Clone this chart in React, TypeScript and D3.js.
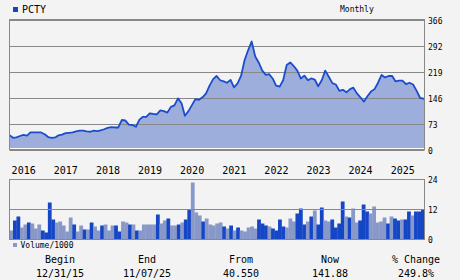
import React from 'react';
import * as d3 from 'd3';

const priceValues: number[] = [
  40.55, 33, 34, 38, 41, 39, 48, 48, 48, 48, 43, 35, 33, 34, 40, 42, 46, 47, 48, 51,
  53, 53, 51, 50, 53, 52, 54, 57, 61, 63, 62, 62, 83, 82, 70, 69, 64, 84, 92, 92,
  102, 100, 99, 110, 108, 104, 120, 124, 144, 130, 95, 108, 125, 142, 140, 147, 158, 180, 198, 207,
  195, 192, 188, 196, 175, 186, 207, 252, 280, 304, 262, 245, 222, 210, 212, 200, 180, 177, 195, 238,
  245, 235, 222, 200, 208, 195, 200, 197, 178, 195, 222, 205, 187, 183, 165, 168, 161, 170, 174, 158,
  147, 135, 150, 163, 170, 188, 210, 203, 207, 207, 192, 194, 194, 184, 188, 183, 165, 145, 143,
];
const lastPrice = 141.88;

const volumeValues: number[] = [
  3.6, 7.6, 9.2, 4.8, 6, 6.8, 6.4, 4.4, 6, 3.6, 2.8, 14.8, 8, 6.8, 7.2, 5.6, 3.2, 8.8, 6, 3.2,
  5.6, 4, 4, 6.8, 5.2, 3.6, 5.6, 6, 3.6, 5.6, 5.6, 3.2, 7.2, 6.8, 6, 6, 3.6, 3.6, 6, 6,
  6, 6, 10, 6.4, 7.6, 8.4, 5.6, 5.6, 6, 6.8, 8, 12, 22.8, 10.8, 9.6, 7.2, 8.4, 6, 5.6, 6.4,
  6.8, 5.2, 4.4, 5.6, 3.6, 4.8, 3.6, 3.2, 4.8, 5.2, 4.4, 8, 6.4, 5.6, 5.2, 4.4, 3.6, 8, 5.2, 4.8,
  8.4, 7.2, 10.4, 12.4, 6, 7.2, 9.2, 11.6, 6, 12.8, 7.6, 7.2, 8, 4.8, 6.4, 15.2, 9.2, 8.8, 12.4, 6.8,
  7.6, 14, 11.2, 10.4, 13.2, 6.8, 7.2, 8.8, 6.4, 9.2, 8.4, 7.6, 8, 8, 11.2, 9.6, 11.2, 11.2, 12,
];
// 1 = up month (dark bar), 0 = down month (light bar)
const volumeUp: number[] = [
  0, 1, 1, 0, 0, 1, 0, 0, 0, 1, 1, 1, 1, 0, 0, 0, 0, 0, 1, 0,
  0, 1, 0, 1, 0, 0, 1, 0, 0, 0, 1, 1, 0, 0, 1, 0, 1, 0, 0, 0,
  0, 0, 1, 0, 0, 1, 0, 0, 1, 0, 1, 1, 0, 0, 0, 1, 0, 0, 0, 0,
  0, 1, 0, 1, 0, 1, 0, 0, 0, 0, 0, 1, 1, 1, 0, 1, 1, 1, 1, 0,
  0, 0, 1, 1, 1, 0, 1, 0, 1, 1, 0, 0, 1, 1, 1, 1, 0, 1, 0, 0,
  1, 1, 1, 0, 0, 0, 0, 0, 1, 0, 1, 1, 0, 1, 1, 0, 1, 1, 1,
];

const yearLabels = ['2016', '2017', '2018', '2019', '2020', '2021', '2022', '2023', '2024', '2025'];
const priceTicks = [0, 73, 146, 219, 292, 366];
const volumeTicks = [0, 12, 24];
const statLabels = ['Begin', 'End', 'From', 'Now', '% Change'];
const statValues = ['12/31/15', '11/07/25', '40.550', '141.88', '249.8%'];

const startDate = new Date(2015, 11, 31);
const endDate = new Date(2025, 10, 7);

const priceDates: Date[] = priceValues.map((_, k) => new Date(2015, 12 + k, 0));
const points: [Date, number][] = priceValues.map((v, k) => [priceDates[k], v] as [Date, number]);
points.push([endDate, lastPrice]);

const FONT = '"DejaVu Sans Mono", monospace';
const BG = '#f3f3f3';
const LINE = '#1a4ccc';
const FILL = '#9daedc';
const BAR_UP = '#1446c6';
const BAR_DN = '#8898c8';
const GRID = '#888888';

export default function App() {
  const L = 9.5, R = 424.5;
  const pTop = 19.5, pBot = 149.5;
  const vTop = 179.5, vBot = 239.5;

  const x = d3.scaleTime().domain([startDate, endDate]).range([L, R]);
  const y = d3.scaleLinear().domain([0, 366]).range([pBot, pTop]);
  const yv = d3.scaleLinear().domain([0, 24]).range([vBot, vTop]);
  const band = d3.scaleBand<number>().domain(d3.range(volumeValues.length)).range([L, R]).padding(0);

  const area = d3.area<[Date, number]>()
    .x(d => x(d[0]))
    .y0(pBot - 1.5)
    .y1(d => y(d[1]));
  const line = d3.line<[Date, number]>()
    .x(d => x(d[0]))
    .y(d => y(d[1]));

  const statCenters = [60, 147, 241, 330, 416];

  return (
    <svg width={460} height={280} style={{ position: 'absolute', left: 0, top: 0, display: 'block' }}
      fontFamily={FONT}>
      <rect x={0} y={0} width={460} height={280} fill={BG} />

      {/* header */}
      <rect x={13} y={7} width={5} height={5} fill={BAR_UP} />
      <text x={22} y={12.5} fontSize={10} fill="#000">PCTY</text>
      <text x={340} y={12} fontSize={8} fill="#000">Monthly</text>

      {/* price panel */}
      <path d={area(points) || ''} fill={FILL} />
      <line x1={L} x2={R} y1={pBot - 1} y2={pBot - 1} stroke="#ffffff" strokeWidth={1} />
      {priceTicks.map(t => (
        <line key={'g' + t} x1={L} x2={R} y1={Math.round(y(t)) + 0.5} y2={Math.round(y(t)) + 0.5}
          stroke={GRID} strokeWidth={1} />
      ))}
      <path d={line(points) || ''} fill="none" stroke={LINE} strokeWidth={1.8} strokeLinejoin="round" />
      <rect x={L} y={pTop} width={R - L} height={pBot - pTop} fill="none" stroke={GRID} strokeWidth={1} />
      {priceTicks.map(t => (
        <text key={'t' + t} x={428} y={y(t) + 4} fontSize={8} fill="#000">{t}</text>
      ))}

      {/* year labels */}
      {yearLabels.map(yr => (
        <text key={yr} x={x(new Date(+yr, 0, 1)) + 2} y={174} fontSize={10} fill="#000">{yr}</text>
      ))}

      {/* volume panel */}
      {volumeValues.map((v, i) => (
        <rect key={'v' + i} x={band(i)!} y={yv(v)} width={band.bandwidth() + 0.3}
          height={vBot - yv(v)} fill={volumeUp[i] ? BAR_UP : BAR_DN} />
      ))}
      <line x1={L} x2={R} y1={yv(12)} y2={yv(12)} stroke={GRID} strokeWidth={1} />
      <rect x={L} y={vTop} width={R - L} height={vBot - vTop} fill="none" stroke={GRID} strokeWidth={1} />
      {volumeTicks.map(t => (
        <text key={'vt' + t} x={428} y={yv(t) + 3.5} fontSize={8} fill="#000">{t}</text>
      ))}
      <rect x={13} y={243} width={4} height={4} fill={BAR_DN} />
      <text x={20.5} y={247.5} fontSize={8} fill="#000">Volume/1000</text>

      {/* stats */}
      {statLabels.map((s, i) => (
        <text key={'s' + i} x={statCenters[i]} y={263} fontSize={10} textAnchor="middle" fill="#000">{s}</text>
      ))}
      {statValues.map((s, i) => (
        <text key={'sv' + i} x={statCenters[i]} y={276.5} fontSize={10} textAnchor="middle" fill="#000">{s}</text>
      ))}
    </svg>
  );
}
